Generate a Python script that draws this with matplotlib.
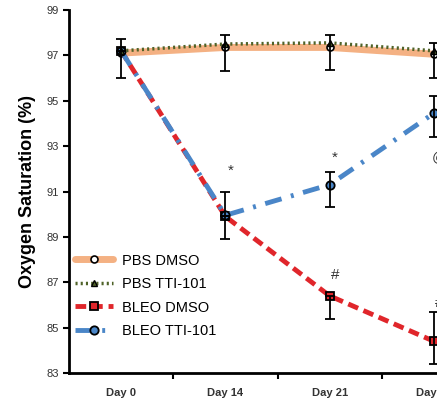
import numpy as np
import matplotlib
matplotlib.use("Agg")
import matplotlib.pyplot as plt

plt.rcParams['font.family'] = ['Liberation Sans', 'DejaVu Sans']

days = ['Day 0', 'Day 14', 'Day 21', 'Day 28']

pbs_dmso = [97.1, 97.35, 97.35, 97.05]
pbs_tti = [97.2, 97.5, 97.55, 97.2]
bleo_dmso = [97.2, 89.9, 86.4, 84.4]
bleo_tti = [97.2, 89.95, 91.3, 94.45]

# asymmetric errors (lower, upper)
pbs_dmso_err = [[1.1, 1.05, 1.0, 1.05], [0.6, 0.55, 0.55, 0.5]]
bleo_dmso_err = [[0.0, 0.0, 1.0, 1.0], [0.0, 0.0, 0.0, 1.3]]
bleo_tti_err = [[0.0, 1.05, 1.0, 1.05], [0.0, 1.05, 0.55, 0.75]]

annot = [(1, 91.9, '*'), (2, 92.5, '*'), (3, 92.5, '@'), (2, 87.3, '#'), (3, 86.1, '#')]

fig = plt.figure(figsize=(4.37, 4.05), dpi=100)
ax = fig.add_axes([69 / 437, 32 / 405, 417 / 437, 363 / 405])
x = np.arange(len(days))

ax.plot(x, pbs_dmso, color='#F4B183', lw=5, solid_capstyle='round',
        marker='o', ms=5, mfc='white', mec='black', mew=1.2, label='PBS DMSO', zorder=3)
ax.plot(x, pbs_tti, color='#4F6228', lw=2.5, ls=(0, (0.6, 0.9)),
        marker='^', ms=5, mfc='#4F6228', mec='black', mew=1, label='PBS TTI-101', zorder=4)
ax.plot(x, bleo_dmso, color='#E0262B', lw=3.5, ls=(0, (2.2, 1.2)),
        marker='s', ms=6, mfc='#E0262B', mec='black', mew=1.3, label='BLEO DMSO', zorder=3)
ax.plot(x, bleo_tti, color='#4A86C8', lw=3.5, ls=(0, (3.5, 2, 0.6, 2)),
        marker='o', ms=6, mfc='#4A86C8', mec='black', mew=1.3, label='BLEO TTI-101', zorder=3)

for vals, err in [(pbs_dmso, pbs_dmso_err), (bleo_dmso, bleo_dmso_err), (bleo_tti, bleo_tti_err)]:
    ax.errorbar(x, vals, yerr=err, fmt='none', ecolor='black', elinewidth=1.3,
                capsize=3.5, capthick=1.3, zorder=5)

for xi, yi, s in annot:
    ax.text(xi + 0.05, yi, s, ha='center', va='center', fontsize=11, color='#333333')

ax.set_xlim(-0.5, 3.5)
ax.set_ylim(83, 99)
ax.set_yticks(np.arange(83, 100, 2))
ax.set_xticks(x)
ax.set_xticklabels(days, fontsize=8, fontweight='bold', color='#333333')
ax.set_xticks(np.arange(0.5, 3.6, 1), minor=True)
ax.tick_params(axis='x', which='major', length=0, pad=11)
ax.tick_params(axis='x', which='minor', length=4, width=1.5, direction='out')
ax.tick_params(axis='y', length=4, width=1.5, direction='out', labelsize=8,
               labelcolor='#333333')
for sp in ['top', 'right']:
    ax.spines[sp].set_visible(False)
for sp in ['left', 'bottom']:
    ax.spines[sp].set_linewidth(2)

ax.set_ylabel('Oxygen Saturation (%)', fontsize=13, fontweight='bold', labelpad=7)

ax.legend(loc='upper left', bbox_to_anchor=(0.0, 0.345), frameon=False, fontsize=10.5,
          handlelength=2.6, handletextpad=0.6, labelspacing=0.65, borderaxespad=0)

fig.savefig('out.png', dpi=100)
